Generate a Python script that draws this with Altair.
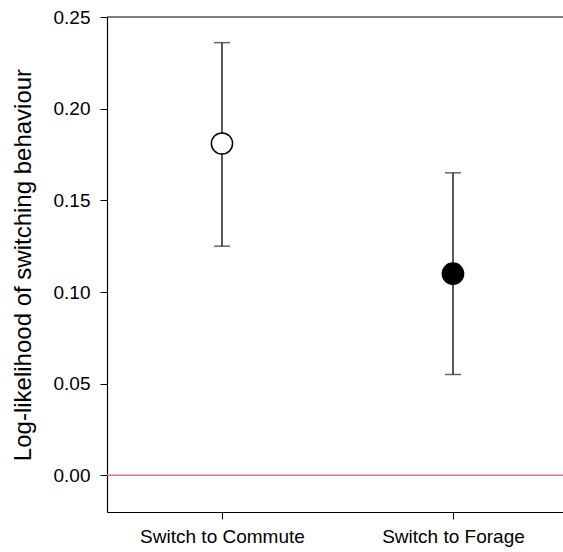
import altair as alt
import pandas as pd

categories = ["Switch to Commute", "Switch to Forage"]
means = [0.181, 0.110]
lower = [0.125, 0.055]
upper = [0.236, 0.165]
fills = ["white", "black"]

y_ticks = [0.0, 0.05, 0.10, 0.15, 0.20, 0.25]
y_domain = [-0.02, 0.25]
ref_lines = [0.0]
frame_top = [0.25]

df = pd.DataFrame({"cat": categories, "mean": means, "lo": lower, "hi": upper, "fill": fills})
ref_df = pd.DataFrame({"v": ref_lines})
top_df = pd.DataFrame({"v": frame_top})

FONT = "Liberation Sans"

x_enc = alt.X(
    "cat:N",
    sort=categories,
    scale=alt.Scale(type="point", padding=0.487, align=0.511),
    axis=alt.Axis(
        title=None, labelAngle=0, labelFontSize=19, labelFont=FONT, labelColor="black",
        tickSize=7, tickColor="black", tickWidth=1, domainColor="black", domainWidth=1.2,
        labelPadding=8, grid=False,
    ),
)
y_scale = alt.Scale(domain=y_domain, nice=False, zero=False)
y_axis = alt.Axis(
    title="Log-likelihood of switching behaviour", values=y_ticks, format=".2f",
    labelFontSize=19, labelFont=FONT, labelColor="black", titleFont=FONT,
    titleFontSize=24, titleFontWeight="normal", titleColor="black", titlePadding=18,
    tickSize=7, tickColor="black", tickWidth=1, domainColor="black", domainWidth=1.2,
    labelPadding=10, grid=False,
)

zero_line = alt.Chart(ref_df).mark_rule(color="#e3788a", strokeWidth=1.5).encode(
    y=alt.Y("v:Q", scale=y_scale, axis=y_axis)
)
top_line = alt.Chart(top_df).mark_rule(color="black", strokeWidth=1.2).encode(
    y=alt.Y("v:Q", scale=y_scale)
)

base = alt.Chart(df)
bars = base.mark_rule(color="#222222", strokeWidth=1.5).encode(
    x=x_enc,
    y=alt.Y("lo:Q", scale=y_scale, axis=y_axis),
    y2="hi:Q",
)
cap_lo = base.mark_tick(color="#222222", thickness=1.5, size=16).encode(
    x=x_enc, y=alt.Y("lo:Q", scale=y_scale)
)
cap_hi = base.mark_tick(color="#222222", thickness=1.5, size=16).encode(
    x=x_enc, y=alt.Y("hi:Q", scale=y_scale)
)
points = base.mark_point(filled=False, shape="circle", size=450, stroke="black", strokeWidth=1.5, opacity=1).encode(
    x=x_enc,
    y=alt.Y("mean:Q", scale=y_scale),
    fill=alt.Fill("fill:N", scale=None, legend=None),
)

chart = alt.layer(zero_line, top_line, bars, cap_lo, cap_hi, points).properties(
    width=456,
    height=495,
    autosize=alt.AutoSizeParams(type="none"),
    padding={"left": 107, "top": 17, "right": 0, "bottom": 40},
    background="white",
).configure_view(stroke=None)

chart.save("out.html", embed_options={"renderer": "svg", "actions": False})
